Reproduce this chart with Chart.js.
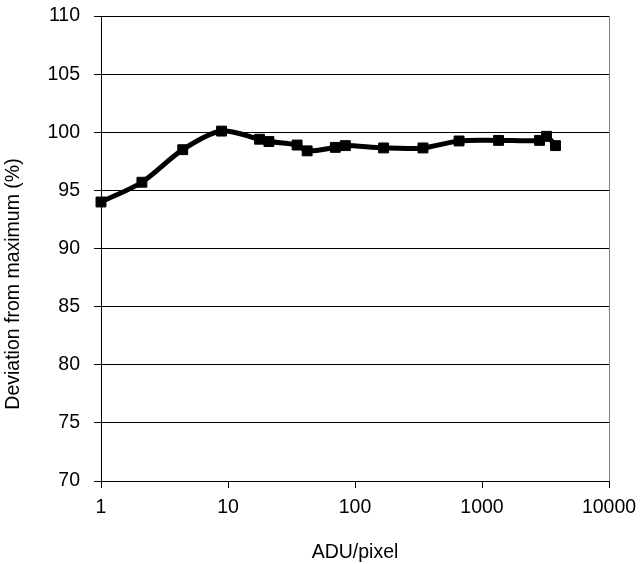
<!DOCTYPE html>
<html>
<head>
<meta charset="utf-8">
<script src="https://cdn.jsdelivr.net/npm/chart.js@4/dist/chart.umd.min.js"></script>
<style>
  html, body { margin: 0; padding: 0; background: #fff; }
  #wrap { width: 641px; height: 564px; }
</style>
</head>
<body>
<div id="wrap"><canvas id="devChart" width="641" height="564"></canvas></div>
<script>
// values
const aduPerPixel = [1, 2.1, 4.4, 8.9, 17.7, 21, 35, 42, 70, 84, 168, 343, 660, 1350, 2840, 3220, 3790];
const deviation = [94.0, 95.7, 98.5, 100.1, 99.4, 99.2, 98.9, 98.4, 98.7, 98.85, 98.65, 98.65, 99.25, 99.3, 99.3, 99.65, 98.85];
const xTicks = [1, 10, 100, 1000, 10000];
const yTitle = 'Deviation from maximum (%)';
const xTitle = 'ADU/pixel';

const fontFamily = '"Liberation Sans", Arial, sans-serif';
const fontSize = 19.5;

const points = aduPerPixel.map((x, i) => ({ x: x, y: deviation[i] }));

// y title is centred on the whole chart height, not the plot area
const yTitlePlugin = {
    id: 'yTitle',
    afterDraw(chart) {
        const ctx = chart.ctx;
        ctx.save();
        ctx.translate(13.5, 284);
        ctx.rotate(-Math.PI / 2);
        ctx.font = fontSize + 'px ' + fontFamily;
        ctx.fillStyle = '#000';
        ctx.textAlign = 'center';
        ctx.textBaseline = 'middle';
        ctx.fillText(yTitle, 0, 0);
        ctx.restore();
    }
};

const ctx = document.getElementById('devChart').getContext('2d');
new Chart(ctx, {
    type: 'line',
    data: {
        datasets: [{
            data: points,
            clip: false,
            borderColor: '#000',
            backgroundColor: '#000',
            borderWidth: 5,
            tension: 0.3,
            fill: false,
            pointStyle: 'rect',
            pointRadius: 7,
            pointBorderWidth: 1,
            pointBackgroundColor: '#000',
            pointBorderColor: '#000',
        }],
    },
    options: {
        responsive: false,
        animation: false,
        layout: { padding: { left: 0, right: 32, top: 16, bottom: 0 } },
        plugins: {
            legend: { display: false },
            tooltip: { enabled: false },
        },
        scales: {
            x: {
                type: 'logarithmic',
                min: 1,
                max: 10000,
                afterBuildTicks: (scale) => {
                    scale.ticks = xTicks.map(v => ({ value: v }));
                },
                // no label overhang padding, plot area is fixed by layout padding
                afterFit: (scale) => {
                    scale.height = 83;
                    scale.paddingLeft = 0;
                    scale.paddingRight = 0;
                },
                ticks: {
                    autoSkip: false,
                    maxRotation: 0,
                    padding: 8,
                    color: '#000',
                    font: { family: fontFamily, size: fontSize },
                    callback: (v) => String(v),
                },
                grid: {
                    drawOnChartArea: true,
                    color: (c) => (c.tick && c.tick.value === 10000 ? '#808080' : 'rgba(0,0,0,0)'),
                    tickColor: '#000',
                    tickLength: 7,
                },
                border: { color: '#000', width: 1 },
                title: {
                    display: true,
                    text: xTitle,
                    color: '#000',
                    font: { family: fontFamily, size: fontSize },
                    padding: { top: 0, bottom: 0 },
                },
            },
            y: {
                min: 70,
                max: 110,
                afterFit: (scale) => {
                    scale.width = 101;
                    scale.paddingTop = 0;
                    scale.paddingBottom = 0;
                },
                ticks: {
                    stepSize: 5,
                    padding: 14,
                    color: '#000',
                    font: { family: fontFamily, size: fontSize },
                },
                grid: {
                    color: '#000',
                    tickColor: '#000',
                    tickLength: 7,
                },
                border: { color: '#000', width: 1 },
            },
        },
    },
    plugins: [yTitlePlugin],
});
</script>
</body>
</html>
